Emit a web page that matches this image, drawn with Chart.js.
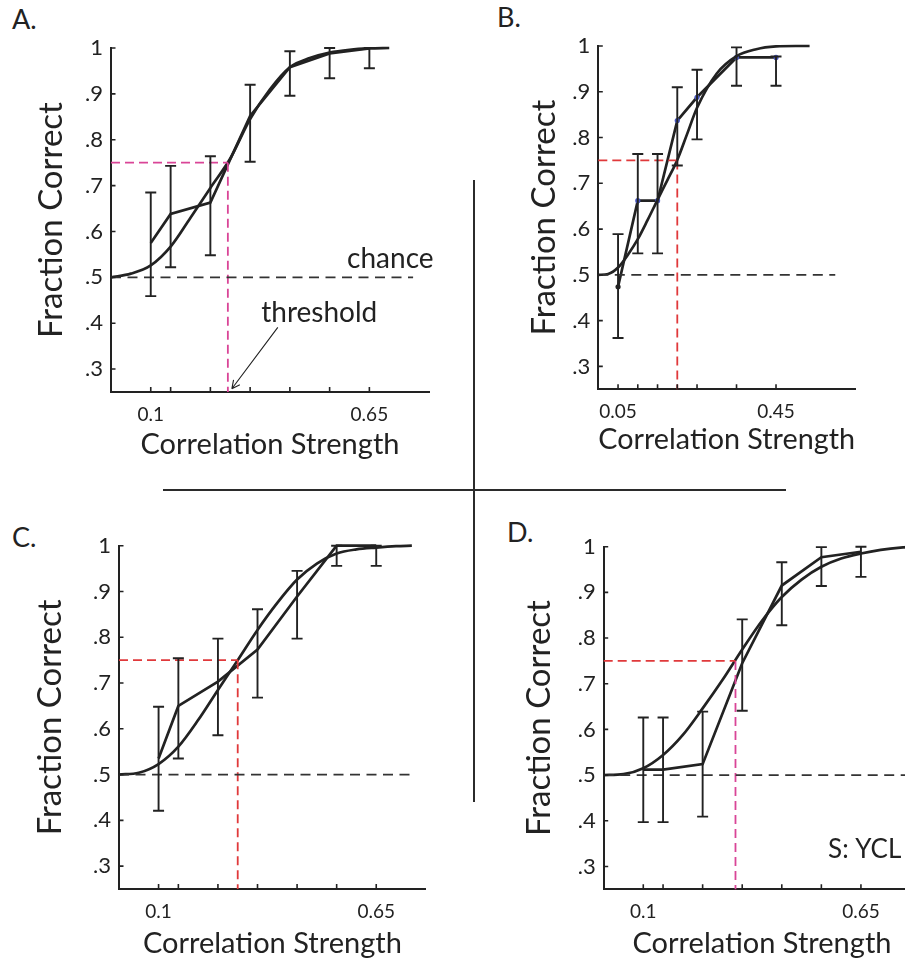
<!DOCTYPE html>
<html><head><meta charset="utf-8">
<script src="https://cdn.jsdelivr.net/npm/chart.js@4.4.1/dist/chart.umd.min.js"></script>
<style>
html,body{margin:0;padding:0;background:#fff;overflow:hidden;width:905px;height:961px;position:relative;}
canvas{position:absolute;}
.lab{position:absolute;font-family:Lato,sans-serif;font-size:27px;line-height:27px;color:#222;}
.rule{position:absolute;background:#2b2b2b;}
</style></head><body>
<div class="lab" style="left:12px;top:5px">A.</div>
<div class="lab" style="left:497px;top:3px">B.</div>
<div class="lab" style="left:12px;top:523px">C.</div>
<div class="lab" style="left:507px;top:518px">D.</div>
<div class="rule" style="left:473px;top:180px;width:2px;height:622px"></div>
<div class="rule" style="left:163px;top:489px;width:623px;height:2px"></div>
<canvas id="cA" width="450" height="470" style="left:0;top:0"></canvas>
<canvas id="cB" width="425" height="470" style="left:480px;top:0"></canvas>
<canvas id="cC" width="450" height="471" style="left:0;top:490px"></canvas>
<canvas id="cD" width="460" height="471" style="left:480px;top:490px"></canvas>
<script>
// ---------- shared axis ticks ----------
const yTickVals = [0.3,0.4,0.5,0.6,0.7,0.8,0.9,1.0];
const yTickLabels = ['.3','.4','.5','.6','.7','.8','.9','1'];
const xTickValsACD = [0.1,0.15,0.25,0.35,0.45,0.55,0.65];
const xTickLabelsACD = ['0.1','','','','','','0.65'];
const xTickValsB = [0.05,0.1,0.15,0.2,0.25,0.35,0.45];
const xTickLabelsB = ['0.05','','','','','','0.45'];

// ---------- Panel A ----------
const aCurveX = [0,0.05,0.1,0.15,0.2,0.25,0.3,0.35,0.4,0.45,0.5,0.55,0.6,0.65,0.7];
const aCurveY = [0.5,0.508,0.526,0.567,0.63,0.695,0.759,0.845,0.91,0.958,0.978,0.99,0.996,0.999,1.0];
const aX  = [0.1,0.15,0.25,0.35,0.45,0.55,0.65];
const aY  = [0.575,0.638,0.663,0.852,0.958,0.988,0.999];
const aLo = [0.459,0.522,0.548,0.752,0.896,0.934,0.956];
const aHi = [0.685,0.743,0.764,0.92,0.993,1.0,1.0];
const aThresh = 0.294, aChanceEnd = 0.76, aXMax = 0.8;

// ---------- Panel B ----------
const bCurveX = [0,0.025,0.05,0.075,0.1,0.125,0.15,0.175,0.2,0.225,0.25,0.3,0.35,0.4,0.45,0.5,0.535];
const bCurveY = [0.5,0.502,0.516,0.544,0.578,0.62,0.664,0.707,0.751,0.808,0.865,0.94,0.978,0.993,0.999,1.0,1.0];
const bX  = [0.05,0.1,0.15,0.2,0.25,0.35,0.45];
const bY  = [0.474,0.662,0.662,0.837,0.888,0.975,0.975];
const bLo = [0.362,0.547,0.547,0.739,0.796,0.913,0.913];
const bHi = [0.589,0.764,0.764,0.91,0.948,0.997,0.977];
const bThresh = 0.2, bChanceEnd = 0.6, bXMax = 0.65;

// ---------- Panel C ----------
const cCurveX = [0,0.05,0.1,0.15,0.2,0.25,0.3,0.35,0.4,0.45,0.5,0.55,0.6,0.65,0.7,0.74];
const cCurveY = [0.5,0.504,0.523,0.561,0.619,0.685,0.75,0.816,0.875,0.926,0.961,0.983,0.992,0.996,0.999,1.0];
const cX  = [0.1,0.15,0.25,0.35,0.45,0.55,0.65];
const cY  = [0.535,0.65,0.703,0.773,0.889,1.0,1.0];
const cLo = [0.421,0.535,0.586,0.668,0.797,0.956,0.956];
const cHi = [0.648,0.754,0.797,0.861,0.945,1.0,1.0];
const cThresh = 0.3, cChanceEnd = 0.745, cXMax = 0.775;

// ---------- Panel D ----------
const dCurveX = [0,0.05,0.1,0.15,0.2,0.25,0.3,0.35,0.4,0.45,0.5,0.55,0.6,0.65,0.7,0.75,0.8];
const dCurveY = [0.5,0.502,0.515,0.544,0.588,0.646,0.708,0.775,0.838,0.89,0.928,0.956,0.974,0.985,0.993,0.998,1.0];
const dX  = [0.1,0.15,0.25,0.35,0.45,0.55,0.65];
const dY  = [0.512,0.512,0.524,0.745,0.915,0.977,0.989];
const dLo = [0.397,0.397,0.409,0.641,0.828,0.914,0.934];
const dHi = [0.626,0.626,0.639,0.841,0.966,0.999,1.0];
const dThresh = 0.333, dChanceEnd = 0.8, dXMax = 0.8;

const INK = '#222222', RED = '#e0393b', PINK = '#d94597';
const FONT = 'Lato, "Open Sans", sans-serif';

const decor = {
  id: 'decor',
  afterDatasetsDraw(chart, args, o) {
    const ctx = chart.ctx, xs = chart.scales.x, ys = chart.scales.y, ca = chart.chartArea;
    ctx.save();
    ctx.strokeStyle = INK; ctx.lineWidth = 1.9; ctx.lineCap = 'butt';
    ctx.beginPath();
    o.ex.forEach((x, i) => {
      const px = xs.getPixelForValue(x), lo = ys.getPixelForValue(o.lo[i]), hi = ys.getPixelForValue(o.hi[i]);
      ctx.moveTo(px, lo); ctx.lineTo(px, hi);
      ctx.moveTo(px - 5.5, lo); ctx.lineTo(px + 5.5, lo);
      ctx.moveTo(px - 5.5, hi); ctx.lineTo(px + 5.5, hi);
    });
    ctx.stroke();
    // inward tick marks
    ctx.lineWidth = 1.6; ctx.beginPath();
    xs.ticks.forEach(t => { const px = xs.getPixelForValue(t.value); ctx.moveTo(px, ca.bottom); ctx.lineTo(px, ca.bottom - 5); });
    ys.ticks.forEach(t => { const py = ys.getPixelForValue(t.value); ctx.moveTo(ca.left, py); ctx.lineTo(ca.left + 4.5, py); });
    ctx.stroke();
    // annotations
    (o.notes || []).forEach(n => {
      ctx.font = n.size + 'px ' + FONT; ctx.fillStyle = INK; ctx.textBaseline = 'alphabetic'; ctx.textAlign = 'left';
      ctx.fillText(n.text, xs.getPixelForValue(n.x), ys.getPixelForValue(n.y));
    });
    (o.arrows || []).forEach(a => {
      const x1 = xs.getPixelForValue(a.x1), y1 = ys.getPixelForValue(a.y1), x2 = xs.getPixelForValue(a.x2), y2 = ys.getPixelForValue(a.y2);
      ctx.lineWidth = 1.1; ctx.beginPath(); ctx.moveTo(x1, y1); ctx.lineTo(x2, y2);
      const ang = Math.atan2(y2 - y1, x2 - x1);
      [0.45, -0.45].forEach(d => { ctx.moveTo(x2, y2); ctx.lineTo(x2 - 9 * Math.cos(ang + d), y2 - 9 * Math.sin(ang + d)); });
      ctx.stroke();
    });
    ctx.restore();
  }
};

function pts(xs, ys) { return xs.map((x, i) => ({x, y: ys[i]})); }

function makePanel(id, p) {
  const datasets = [
    {data: [{x: 0, y: 0.5}, {x: p.chanceEnd, y: 0.5}], borderColor: '#333', borderWidth: 1.8, borderDash: [10, 6.5], pointRadius: 0, clip: false},
    {data: [{x: 0, y: 0.75}, {x: p.thresh, y: 0.75}], borderColor: p.hColor, borderWidth: 1.8, borderDash: [9, 5], pointRadius: 0, clip: false},
    {data: [{x: p.thresh, y: 0.75}, {x: p.thresh, y: 0.25}], borderColor: p.vColor, borderWidth: 1.8, borderDash: [9, 5], pointRadius: 0, clip: false},
    {data: pts(p.cx, p.cy), borderColor: INK, borderWidth: 2.7, cubicInterpolationMode: 'monotone', pointRadius: 0, clip: false},
    {data: pts(p.dx, p.dy), borderColor: INK, borderWidth: 2.7, tension: 0, clip: false,
      pointRadius: p.dots ? 2.6 : 0, pointBorderWidth: 0,
      pointBackgroundColor: c => c.dataIndex === 0 ? INK : '#4655bd'}
  ];
  new Chart(document.getElementById(id), {
    type: 'line',
    data: {datasets},
    plugins: [decor],
    options: {
      responsive: false, animation: false, devicePixelRatio: 1,
      layout: {padding: {top: p.padTop, right: p.padRight, left: 0, bottom: 0}},
      plugins: {legend: {display: false}, tooltip: {enabled: false},
        decor: {ex: p.dx, lo: p.lo, hi: p.hi, notes: p.notes, arrows: p.arrows}},
      scales: {
        x: {type: 'linear', min: 0, max: p.xMax,
          afterBuildTicks: s => { s.ticks = p.xTicks.map(v => ({value: v})); },
          afterFit: s => { s.height = p.xH; },
          grid: {drawOnChartArea: false, drawTicks: false},
          border: {display: true, color: INK, width: 2},
          ticks: {autoSkip: false, maxRotation: 0, padding: 11, color: INK, font: {family: FONT, size: 19},
            callback: (v, i) => p.xLabels[i]},
          title: {display: true, text: 'Correlation Strength', color: INK, font: {family: FONT, size: 29, lineHeight: 1}, padding: {top: 0, bottom: p.xTitlePad}}
        },
        y: {type: 'linear', min: 0.25, max: 1.0,
          afterBuildTicks: s => { s.ticks = yTickVals.map(v => ({value: v})); },
          afterFit: s => { s.width = p.yW; },
          grid: {drawOnChartArea: false, drawTicks: false},
          border: {display: true, color: INK, width: 2},
          ticks: {autoSkip: false, padding: 8, color: INK, font: {family: FONT, size: 22},
            callback: (v, i) => yTickLabels[i]},
          title: {display: true, text: 'Fraction Correct', color: INK, font: {family: FONT, size: 33, lineHeight: 1}, padding: {top: p.yTitlePad, bottom: 0}}
        }
      }
    }
  });
}

makePanel('cA', {cx: aCurveX, cy: aCurveY, dx: aX, dy: aY, lo: aLo, hi: aHi, thresh: aThresh, chanceEnd: aChanceEnd, xMax: aXMax,
  hColor: PINK, vColor: PINK, xTicks: xTickValsACD, xLabels: xTickLabelsACD,
  padTop: 48, padRight: 21, xH: 78, yW: 111, xTitlePad: 10.5, yTitlePad: 34.5,
  notes: [{text: 'chance', x: 0.594, y: 0.521, size: 28}, {text: 'threshold', x: 0.378, y: 0.403, size: 28}],
  arrows: [{x1: 0.4196, y1: 0.391, x2: 0.304, y2: 0.257}]});
makePanel('cB', {cx: bCurveX, cy: bCurveY, dx: bX, dy: bY, lo: bLo, hi: bHi, thresh: bThresh, chanceEnd: bChanceEnd, xMax: bXMax,
  hColor: RED, vColor: RED, xTicks: xTickValsB, xLabels: xTickLabelsB, dots: true,
  padTop: 46, padRight: 50, xH: 80.7, yW: 118.3, xTitlePad: 15.5, yTitlePad: 47.5});
makePanel('cC', {cx: cCurveX, cy: cCurveY, dx: cX, dy: cY, lo: cLo, hi: cHi, thresh: cThresh, chanceEnd: cChanceEnd, xMax: cXMax,
  hColor: RED, vColor: RED, xTicks: xTickValsACD, xLabels: xTickLabelsACD,
  padTop: 55.7, padRight: 24.3, xH: 72, yW: 119, xTitlePad: 2.5, yTitlePad: 34});
makePanel('cD', {cx: dCurveX, cy: dCurveY, dx: dX, dy: dY, lo: dLo, hi: dHi, thresh: dThresh, chanceEnd: dChanceEnd, xMax: dXMax,
  hColor: RED, vColor: PINK, xTicks: xTickValsACD, xLabels: xTickLabelsACD,
  padTop: 56.7, padRight: 19.7, xH: 71.7, yW: 123.7, xTitlePad: 2.5, yTitlePad: 43,
  notes: [{text: 'S: YCL', x: 0.567, y: 0.319, size: 26}]});
</script>
</body></html>
